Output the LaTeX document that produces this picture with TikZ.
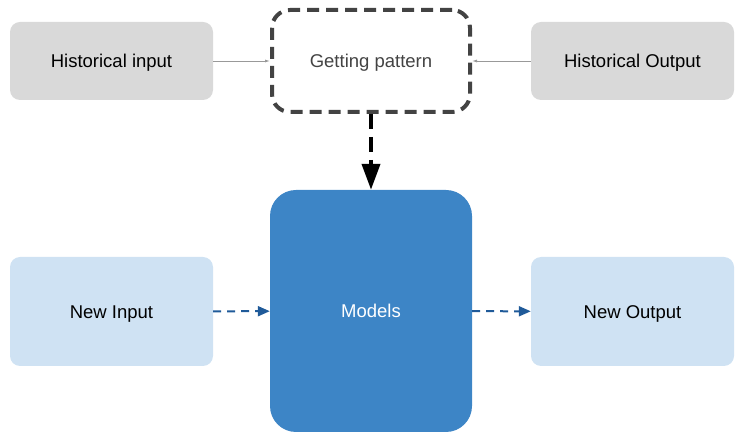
\documentclass[tikz,border=0pt]{standalone}
\usepackage{fontspec}
\setmainfont{Liberation Sans}
\usetikzlibrary{arrows.meta}
\tikzset{>=latex}

\definecolor{histgray}{HTML}{D9D9D9}
\definecolor{patgray}{HTML}{434343}
\definecolor{modblue}{HTML}{3D85C6}
\definecolor{newblue}{HTML}{CFE2F3}
\definecolor{arrblue}{HTML}{1F5A99}
\definecolor{thingray}{HTML}{999999}

\tikzset{
    box/.style={rounded corners=10pt, minimum width=203pt, minimum height=78pt,
        inner sep=0pt, text height=13.3pt, text depth=0pt,
        font=\fontsize{18.5}{22}\selectfont},
    histbox/.style={box, fill=histgray},
    newbox/.style={box, fill=newblue, minimum height=109pt},
    patbox/.style={box, draw=patgray, line width=4pt, dash pattern=on 12pt off 7pt,
        rounded corners=18pt, minimum width=198pt, minimum height=102pt, text=patgray},
    modbox/.style={box, fill=modblue, rounded corners=26pt, minimum width=202pt,
        minimum height=242pt, text=white},
    thin arrow/.style={thingray, line width=0.8pt, -{Latex[length=5pt,width=3pt]}},
    big arrow/.style={black, line width=4pt, dash pattern=on 15pt off 8pt,
        -{Triangle[length=26pt,width=18pt]}},
    blue arrow/.style={arrblue, line width=2pt, dash pattern=on 8pt off 6pt,
        -{Triangle[length=12pt,width=10pt]}}
}

\begin{document}
\begin{tikzpicture}[x=1pt, y=-1pt]

    \useasboundingbox (0,0) rectangle (745,443);

    \node[histbox] (hin) at (111.5,61) {Historical input};
    \node[patbox] (pat) at (371,61) {Getting pattern};
    \node[histbox] (hout) at (632.5,61) {Historical Output};

    \node[newbox] (nin) at (111.5,311.5) {New Input};
    \node[modbox] (mod) at (371,311) {Models};
    \node[newbox] (nout) at (632.5,311.5) {New Output};

    \draw[thin arrow] (hin) -- (pat);
    \draw[thin arrow] (hout) -- (pat);
    \draw[big arrow] (pat) -- (mod);

    \draw[blue arrow] (nin) -- (mod);
    \draw[blue arrow] (mod) -- (nout);

\end{tikzpicture}
\end{document}
